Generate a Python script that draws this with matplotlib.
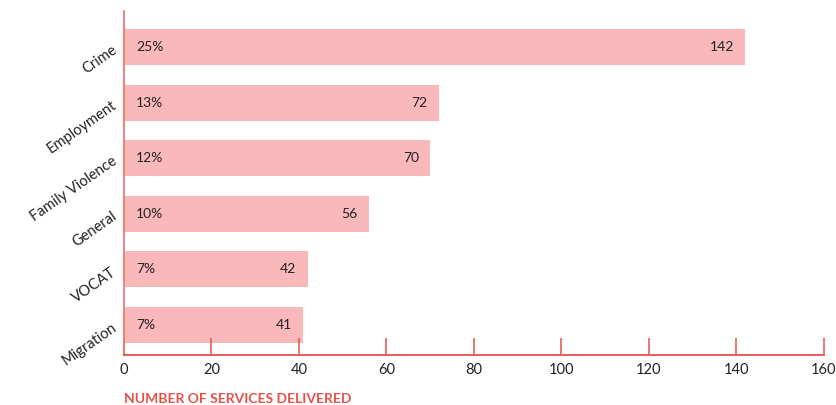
import matplotlib.pyplot as plt
import numpy as np

categories = ['Crime', 'Employment', 'Family Violence', 'General', 'VOCAT', 'Migration']
services = [142, 72, 70, 56, 42, 41]
shares = ['25%', '13%', '12%', '10%', '7%', '7%']
xticks = [0, 20, 40, 60, 80, 100, 120, 140, 160]

plt.rcParams['font.family'] = ['Lato', 'DejaVu Sans']
red = '#e5524a'
bar_color = '#f9b8b9'

fig = plt.figure(figsize=(8.37, 4.05), dpi=100)
ax = fig.add_axes([124 / 837, 50 / 405, 700 / 837, 344 / 405])

y = np.arange(len(categories))
ax.barh(y, services, height=0.65, color=bar_color)

for i, (v, s) in enumerate(zip(services, shares)):
    ax.text(2.8, i, s, va='center', ha='left', fontsize=10, color='#222222')
    ax.text(v - 2.6, i, str(v), va='center', ha='right', fontsize=10, color='#222222')

ax.set_xlim(0, 160)
ax.set_ylim(5.54, -0.65)
ax.set_xticks(xticks)
ax.set_yticks(y)
ax.set_yticklabels(categories, rotation=35, ha='right', rotation_mode='anchor',
                   fontsize=10.5, color='#222222')

for side in ['top', 'right']:
    ax.spines[side].set_visible(False)
ax.spines['left'].set_color('#ee7a70')
ax.spines['bottom'].set_color(red)
for side in ['left', 'bottom']:
    ax.spines[side].set_linewidth(1.3)

ax.tick_params(axis='x', direction='in', length=12, width=1.1, color=red,
               labelsize=10.5, labelcolor='#222222', pad=6)
ax.tick_params(axis='y', length=0, pad=7)

ax.set_xlabel('NUMBER OF SERVICES DELIVERED', color=red, fontsize=10,
              fontweight='bold', loc='left', labelpad=11)

fig.savefig('out.png', dpi=100)
